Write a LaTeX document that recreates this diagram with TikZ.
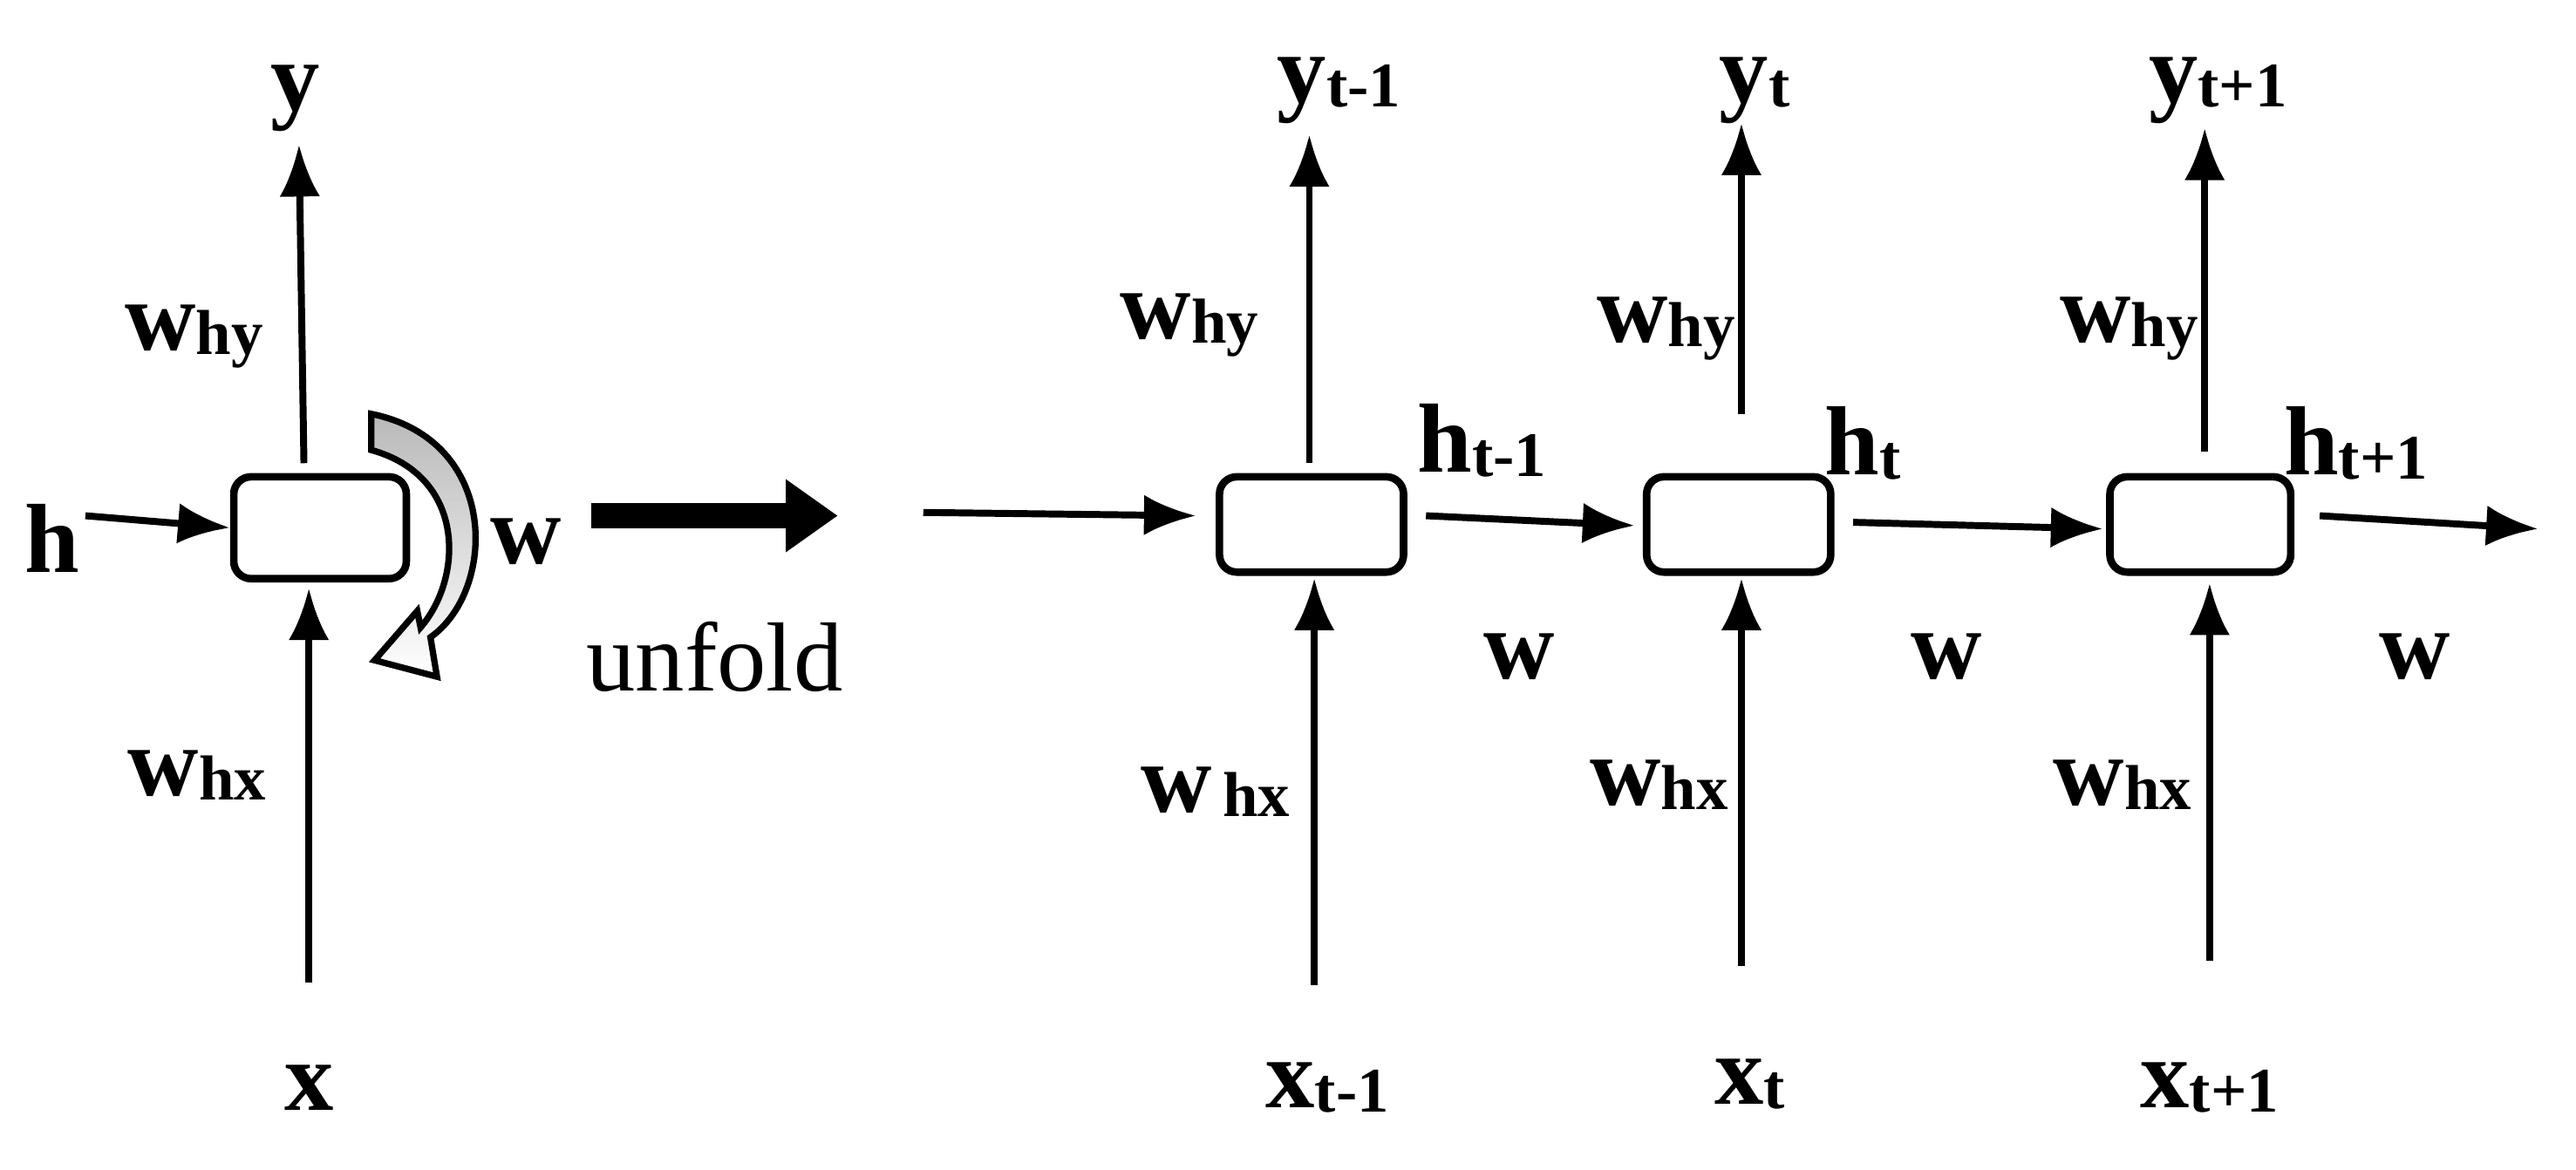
\documentclass[tikz,border=0pt]{standalone}
\usepackage{fontspec}
\setmainfont{Liberation Serif}
\usetikzlibrary{arrows.meta}
\newcommand{\lbl}[2]{\textbf{#1}{\fontsize{11}{11}\selectfont\raisebox{-0.15ex}{\textbf{#2}}}}
\begin{document}
\begin{tikzpicture}[x=0.01cm, y=-0.01cm,
    cell/.style={draw, line width=1.3pt, rounded corners=3pt, minimum width=3.1cm, minimum height=1.8cm, anchor=north west},
    arr/.style={line width=1.2pt, -{Latex[length=9pt, width=7pt]}},
    txt/.style={font=\fontsize{17}{20}\selectfont}]
  \useasboundingbox (0,0) rectangle (1568,712);

  % Folded network (left)
  \node[cell, minimum width=1.05cm, minimum height=0.62cm] (c0) at (140,288) {};
  \node[txt] (y0) at (180,60) {\textbf{y}};
  \node[txt] (x0) at (188,662) {\textbf{x}};
  \node[txt] (h0) at (32,328) {\textbf{h}};
  \node[txt] (w0) at (320,330) {\textbf{w}};
  \node[txt] at (118,205) {\lbl{w}{hy}};
  \node[txt] at (120,472) {\lbl{w}{hx}};
  \coordinate (x0s) at (188,598);
  \coordinate (h0s) at (52,314);
  \draw[arr] (c0.north west) ++(45,-6) -- (182,88);
  \draw[arr] (x0s) -- (188,358);
  \draw[arr] (h0s) -- (c0.west);
  % recurrent loop
  \draw[line width=1.1pt, top color=gray!55, bottom color=white]
    (226,252) .. controls (305,268) and (302,360) .. (262,388)
    -- (266,412) -- (228,402) -- (254,372) -- (256,382)
    .. controls (282,352) and (284,290) .. (226,274) -- cycle;

  % Unfold arrow
  \coordinate (u1) at (360,314);
  \coordinate (u2) at (510,314);
  \draw[line width=4.5pt, -{Triangle[length=9pt, width=12pt]}] (u1) -- (u2);
  \node[txt] (unf) at (435,400) {unfold};

  % Unfolded network (right)
  \node[cell, minimum width=1.12cm, minimum height=0.58cm] (c1) at (740,288) {};
  \node[cell, minimum width=1.12cm, minimum height=0.58cm] (c2) at (1000,288) {};
  \node[cell, minimum width=1.1cm, minimum height=0.58cm] (c3) at (1282,288) {};

  \node[txt] (y1) at (815,55) {\lbl{y}{t-1}};
  \node[txt] (y2) at (1068,55) {\lbl{y}{t}};
  \node[txt] (y3) at (1350,55) {\lbl{y}{t+1}};
  \node[txt] (xx1) at (808,662) {\lbl{x}{t-1}};
  \node[txt] (xx2) at (1065,660) {\lbl{x}{t}};
  \node[txt] (xx3) at (1345,662) {\lbl{x}{t+1}};
  \node[txt] at (902,268) {\lbl{h}{t-1}};
  \node[txt] at (1134,270) {\lbl{h}{t}};
  \node[txt] at (1434,270) {\lbl{h}{t+1}};
  \node[txt] at (724,198) {\lbl{w}{hy}};
  \node[txt] at (1014,200) {\lbl{w}{hy}};
  \node[txt] at (1296,200) {\lbl{w}{hy}};
  \node[txt] at (740,482) {\lbl{w}{\,hx}};
  \node[txt] at (1010,478) {\lbl{w}{hx}};
  \node[txt] at (1292,478) {\lbl{w}{hx}};
  \node[txt] at (925,400) {\textbf{w}};
  \node[txt] at (1185,400) {\textbf{w}};
  \node[txt] at (1470,400) {\textbf{w}};

  \coordinate (in) at (562,312);
  \coordinate (out) at (1545,322);
  \coordinate (o2) at (1060,252);
  \coordinate (o3) at (1342,275);
  \coordinate (i1) at (800,600);
  \coordinate (i2) at (1060,588);
  \coordinate (i3) at (1345,585);

  \draw[arr] (in) -- (728,314);
  \draw[arr] (868,314) -- (995,320);
  \draw[arr] (1128,318) -- (1280,322);
  \draw[arr] (1412,314) -- (out);
  \draw[arr] (797,282) -- (797,82);
  \draw[arr] (o2) -- (1060,75);
  \draw[arr] (o3) -- (1342,78);
  \draw[arr] (i1) -- (800,352);
  \draw[arr] (i2) -- (1060,352);
  \draw[arr] (i3) -- (1345,355);
\end{tikzpicture}
\end{document}
